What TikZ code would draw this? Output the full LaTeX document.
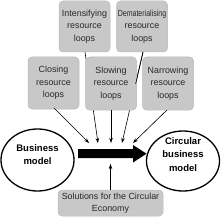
\documentclass[tikz,border=0pt]{standalone}
\usepackage{fontspec}
\setmainfont{Liberation Sans}
\usetikzlibrary{arrows.meta,calc}
\definecolor{boxfill}{RGB}{200,200,200}
\definecolor{boxline}{RGB}{185,185,185}
\definecolor{txt}{RGB}{40,40,40}
\begin{document}
\begin{tikzpicture}[x=1pt,y=-1pt,
  gbox/.style={draw=boxline,fill=boxfill,rounded corners=4pt,line width=0.5pt,
    minimum width=#1,align=center,inner sep=0pt,text=txt,
    font=\fontsize{8.9}{12.5}\selectfont},
  gbox/.default=51pt,
  bmtext/.style={align=center,font=\fontsize{9.5}{13.5}\bfseries\selectfont},
  thin/.style={draw=black,line width=0.6pt,-{Stealth[length=5pt,width=3.5pt]}}]
\useasboundingbox (0,0) rectangle (220,222);
% circles
\draw[line width=1.3pt] (37.5,160) ellipse [x radius=36.5, y radius=31];
\node[bmtext] (bm) at (37.5,154.5) {Business\\model};
\draw[line width=1.3pt] (183,161) ellipse [x radius=36.5, y radius=30];
\node[bmtext] (cbm) at (183,154.5) {Circular\\business\\model};
% connector coordinates
\coordinate (iS) at (85,52);
\coordinate (iE) at (98,143);
\coordinate (dS) at (143,52);
\coordinate (dE) at (122,143);
% lines behind boxes
\draw[thin] (iS) -- (iE);
\draw[thin] (dS) -- (dE);
% top boxes
\node[gbox,minimum height=51pt] (int) at (84.5,26.5) {Intensifying\\resource\\loops};
\node[gbox,minimum height=51pt] (dem) at (142,26.5) {\scalebox{0.79}[1]{Dematerialising}\\resource\\loops};
% second row
\node[gbox,minimum height=52pt] (clo) at (53.5,83) {Closing\\resource\\loops};
\node[gbox,minimum height=53pt] (slo) at (111,83.5) {Slowing\\resource\\loops};
\node[gbox,minimum height=53pt] (nar) at (168,83.5) {Narrowing\\resource\\loops};
% visible segment of dematerialising line between boxes
\draw[line width=0.6pt] (dS) -- ($(dS)!0.35!(dE)$);
% bottom box
\node[gbox=105pt,minimum height=26pt] (sol) at (110.5,203) {Solutions for the Circular\\Economy};
% big arrow
\fill (78,149) -- (133,149) -- (133,145) -- (146.5,153.7) -- (133,162.5) -- (133,158) -- (78,158) -- cycle;
\coordinate (cE) at (89,143);
\coordinate (sE) at (111,143);
\coordinate (nE) at (133,143);
\coordinate (bE) at (110.5,164);
\draw[thin] (54,108) -- (cE);
\draw[thin] (slo.south) -- (sE);
\draw[thin] (167,110) -- (nE);
\draw[thin] (sol.north) -- (bE);
\end{tikzpicture}
\end{document}
